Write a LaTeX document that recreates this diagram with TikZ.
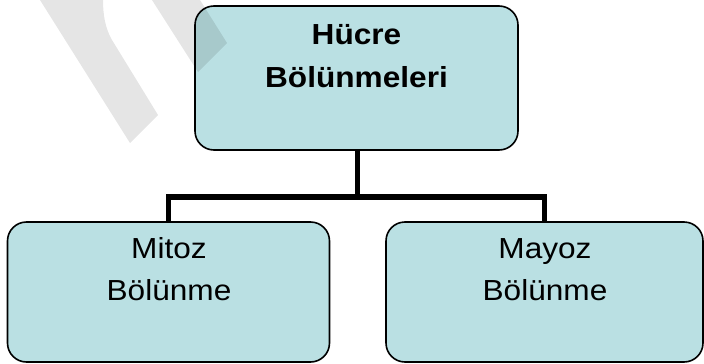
\documentclass[tikz,border=0pt]{standalone}
\usepackage{fontspec}
\setmainfont{Liberation Sans}[FakeStretch=1.09]
\definecolor{boxfill}{RGB}{186,224,227}
\tikzset{
  box/.style={draw=black, line width=1.6pt, fill=boxfill, rounded corners=19pt, inner sep=0pt},
  conn/.style={draw=black, line width=5.5pt, line join=miter},
  txt/.style={anchor=base, inner sep=0pt, font=\fontsize{29}{34}\selectfont},
  btxt/.style={txt, font=\fontsize{29}{34}\selectfont\bfseries},
  wmark/.style={fill=black, fill opacity=0.1, draw=none}
}
\begin{document}
\begin{tikzpicture}[x=1pt,y=-1pt]
\useasboundingbox (0,0) rectangle (704,364);
% boxes
\node[box, minimum width=323pt, minimum height=144pt] (top) at (356.5,78) {};
\node[box, minimum width=322pt, minimum height=140pt] (left) at (168.5,292) {};
\node[box, minimum width=317pt, minimum height=140pt] (right) at (544.5,292) {};
% texts
\node[btxt] (t1) at (356.5,44) {Hücre};
\node[btxt] (t2) at (356.5,87) {Bölünmeleri};
\node[txt] (l1) at (169,258) {Mitoz};
\node[txt] (l2) at (169,300) {Bölünme};
\node[txt] (r1) at (545,258) {Mayoz};
\node[txt] (r2) at (545,300) {Bölünme};
% connectors
\coordinate (mid) at (357.5,197);
\draw[conn] (top.south -| mid) -- (mid);
\draw[conn] (left.north) |- (mid) -| (right.north);
% watermark fragments
\fill[wmark] (40,0) -- (130,143) -- (158,115) -- (112,40) .. controls (105,28) and (103,14) .. (103,0) -- cycle;
\fill[wmark] (152,0) -- (198,72) -- (227,43) -- (200,0) -- cycle;
\end{tikzpicture}
\end{document}
